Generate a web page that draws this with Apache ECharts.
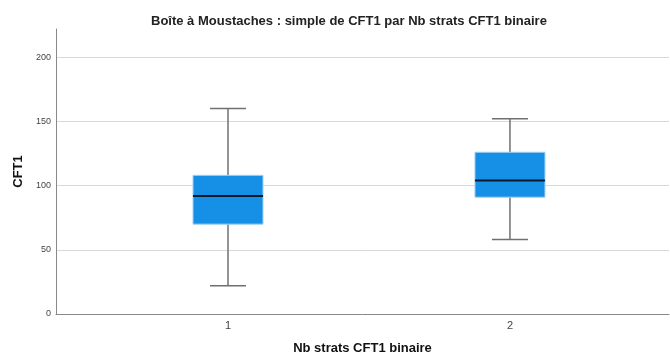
<!DOCTYPE html>
<html>
<head>
<meta charset="utf-8">
<script src="https://cdn.jsdelivr.net/npm/echarts@6/dist/echarts.min.js"></script>
<style>
  html, body { margin: 0; padding: 0; background: #fff; }
  #main { width: 670px; height: 356px; }
</style>
</head>
<body>
<div id="main"></div>
<script>
// groups of "Nb strats CFT1 binaire"
var categories = [1, 2];
// five-number summaries of CFT1
var whiskerLow = [22, 58];
var quart1 = [70, 91];
var medians = [92, 104];
var quart3 = [108, 126];
var whiskerHigh = [160, 152];

var FONT = "'Liberation Sans', Arial, sans-serif";

var boxData = [];
for (var i = 0; i < categories.length; i++) {
  boxData.push([categories[i], whiskerLow[i], quart1[i], medians[i], quart3[i], whiskerHigh[i]]);
}

function renderBox(params, api) {
  var x = api.value(0);
  var lo = api.coord([x, api.value(1)]);
  var q1 = api.coord([x, api.value(2)]);
  var med = api.coord([x, api.value(3)]);
  var q3 = api.coord([x, api.value(4)]);
  var hi = api.coord([x, api.value(5)]);
  var cx = lo[0];
  var half = 35, cap = 18;
  var whisk = { stroke: '#707070', lineWidth: 1.5 };
  return {
    type: 'group',
    children: [
      { type: 'line', shape: { x1: cx, y1: hi[1], x2: cx, y2: q3[1] }, style: whisk },
      { type: 'line', shape: { x1: cx, y1: q1[1], x2: cx, y2: lo[1] }, style: whisk },
      { type: 'line', shape: { x1: cx - cap, y1: hi[1], x2: cx + cap, y2: hi[1] }, style: whisk },
      { type: 'line', shape: { x1: cx - cap, y1: lo[1], x2: cx + cap, y2: lo[1] }, style: whisk },
      { type: 'rect', shape: { x: cx - half, y: q3[1], width: half * 2, height: q1[1] - q3[1] },
        style: { fill: '#1590e6', stroke: '#9fd0f3', lineWidth: 1 } },
      { type: 'line', shape: { x1: cx - half, y1: med[1], x2: cx + half, y2: med[1] },
        style: { stroke: '#0d1a26', lineWidth: 2 } }
    ]
  };
}

var chart = echarts.init(document.getElementById('main'));

var option = {
  animation: false,
  textStyle: { fontFamily: FONT },
  title: {
    text: 'Boîte à Moustaches : simple de CFT1 par Nb strats CFT1 binaire',
    left: 146,
    top: 10,
    textStyle: { fontFamily: FONT, fontSize: 13, fontWeight: 'bold', color: '#222' }
  },
  grid: { left: 56, right: 1, top: 29, bottom: 42, outerBoundsMode: 'none' },
  xAxis: {
    type: 'value',
    min: 0.39,
    max: 2.564,
    name: 'Nb strats CFT1 binaire',
    nameLocation: 'middle',
    nameGap: 28,
    nameTextStyle: { fontFamily: FONT, fontSize: 13, fontWeight: 'bold', color: '#111' },
    axisLine: { show: true, lineStyle: { color: '#888', width: 1 } },
    axisTick: { show: false },
    splitLine: { show: false },
    axisLabel: { customValues: categories, fontSize: 11, color: '#444', margin: 6 }
  },
  yAxis: {
    type: 'value',
    min: 0,
    max: 222,
    interval: 50,
    name: 'CFT1',
    nameLocation: 'middle',
    nameGap: 30,
    nameTextStyle: { fontFamily: FONT, fontSize: 13, fontWeight: 'bold', color: '#111' },
    axisLine: { show: true, lineStyle: { color: '#888', width: 1 } },
    axisTick: { show: false },
    axisLabel: { fontSize: 9, color: '#444', margin: 5, showMaxLabel: false },
    splitLine: { show: true, showMaxLine: false, lineStyle: { color: '#d9d9d9', width: 1 } }
  },
  series: [{
    type: 'custom',
    renderItem: renderBox,
    encode: { x: 0, y: [1, 2, 3, 4, 5] },
    data: boxData
  }]
};

chart.setOption(option);
</script>
</body>
</html>
